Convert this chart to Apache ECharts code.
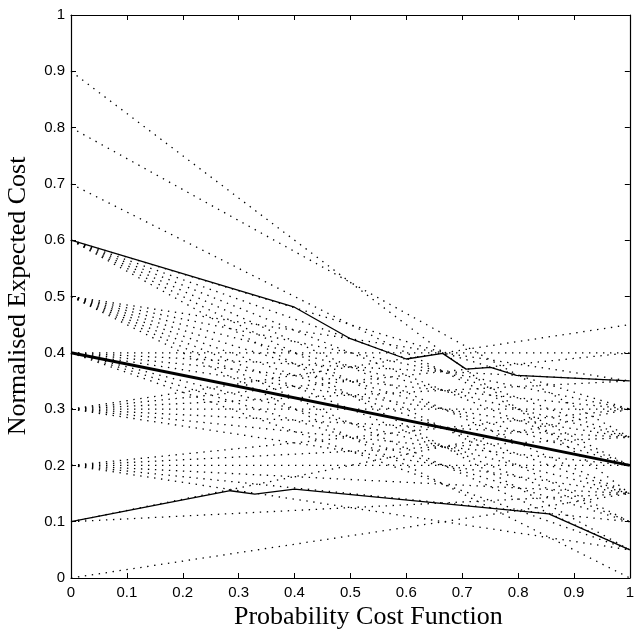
<!DOCTYPE html>
<html><head><meta charset="utf-8">
<script src="https://cdn.jsdelivr.net/npm/echarts@6/dist/echarts.min.js"></script>
<style>html,body{margin:0;padding:0;background:#fff}#c{width:637px;height:633px}</style>
</head><body><div id="c"></div>
<script>
// Dotted cost lines: value at x=0 (start) and at x=1 (end), paired by index
const lineStart = [
  0.9, 0.8, 0.7,
  0.6, 0.6, 0.6, 0.6, 0.6, 0.6,
  0.5, 0.5, 0.5, 0.5, 0.5, 0.5, 0.5, 0.5,
  0.4, 0.4, 0.4, 0.4, 0.4, 0.4, 0.4, 0.4,
  0.3, 0.3, 0.3, 0.3, 0.3, 0.3, 0.3,
  0.2, 0.2, 0.2, 0.2, 0.2, 0.2,
  0.1, 0.1,
  0.0
];
const lineEnd = [
  0.15, 0.25, 0.2,
  0.3, 0.25, 0.2, 0.15, 0.1, 0.05,
  0.35, 0.3, 0.25, 0.2, 0.15, 0.1, 0.05, 0.0,
  0.4, 0.35, 0.3, 0.25, 0.2, 0.15, 0.1, 0.05,
  0.45, 0.4, 0.35, 0.3, 0.25, 0.2, 0.15,
  0.3, 0.25, 0.2, 0.15, 0.1, 0.05,
  0.3, 0.15,
  0.15
];
// Upper and lower solid bound curves
const upperX = [0, 0.4, 0.5, 0.6, 0.665, 0.707, 0.751, 0.797, 1];
const upperY = [0.6, 0.481, 0.425, 0.389, 0.399, 0.371, 0.374, 0.36, 0.35];
const lowerX = [0, 0.285, 0.329, 0.4, 0.855, 1];
const lowerY = [0.1, 0.155, 0.149, 0.158, 0.114, 0.05];
// Central (thick) cost line
const centralX = [0, 1];
const centralY = [0.4, 0.2];
// Axes
const axisMin = 0, axisMax = 1, axisStep = 0.1;
const xTitle = 'Probability Cost Function';
const yTitle = 'Normalised Expected Cost';

const chart = echarts.init(document.getElementById('c'), null, {renderer: 'canvas'});
const series = [];
lineStart.forEach((s, i) => {
  series.push({
    type: 'line', xAxisIndex: 0, yAxisIndex: 0, symbol: 'none', silent: true,
    data: [[0, s], [1, lineEnd[i]]],
    lineStyle: {color: '#000', width: 1.3, type: [1.4, 5.6]},
    z: 2
  });
});
const zip = (xs, ys) => xs.map((x, i) => [x, ys[i]]);
series.push({type: 'line', symbol: 'none', silent: true, data: zip(upperX, upperY),
  lineStyle: {color: '#000', width: 1.3}, z: 3});
series.push({type: 'line', symbol: 'none', silent: true, data: zip(lowerX, lowerY),
  lineStyle: {color: '#000', width: 1.3}, z: 3});
series.push({type: 'line', symbol: 'none', silent: true, data: zip(centralX, centralY),
  lineStyle: {color: '#000', width: 3}, z: 4});

const labelFont = {fontFamily: 'Liberation Sans', fontSize: 15, color: '#000'};
const baseAxis = {
  type: 'value', min: axisMin, max: axisMax, interval: axisStep,
  splitLine: {show: false},
  axisLine: {show: true, onZero: false, lineStyle: {color: '#000', width: 1.2}},
  axisTick: {show: true, inside: true, length: 5, lineStyle: {color: '#000', width: 1}}
};
chart.setOption({
  animation: false,
  backgroundColor: '#fff',
  grid: {left: 71, right: 2, top: 15, bottom: 55, containLabel: false},
  xAxis: [
    Object.assign({}, baseAxis, {position: 'bottom',
      axisLabel: Object.assign({margin: 7}, labelFont)}),
    Object.assign({}, baseAxis, {position: 'top', axisLabel: {show: false}})
  ],
  yAxis: [
    Object.assign({}, baseAxis, {position: 'left',
      axisLabel: Object.assign({margin: 6}, labelFont)}),
    Object.assign({}, baseAxis, {position: 'right', axisLabel: {show: false}})
  ],
  graphic: [
    {type: 'text', left: 234, top: 604,
      style: {text: xTitle, fontFamily: 'Liberation Serif', fontSize: 26, fill: '#000'}},
    {type: 'text', x: 5, y: 296, rotation: Math.PI / 2,
      style: {text: yTitle, fontFamily: 'Liberation Serif', fontSize: 26, fill: '#000',
        align: 'center', verticalAlign: 'top'}}
  ],
  series: series
});
</script></body></html>
